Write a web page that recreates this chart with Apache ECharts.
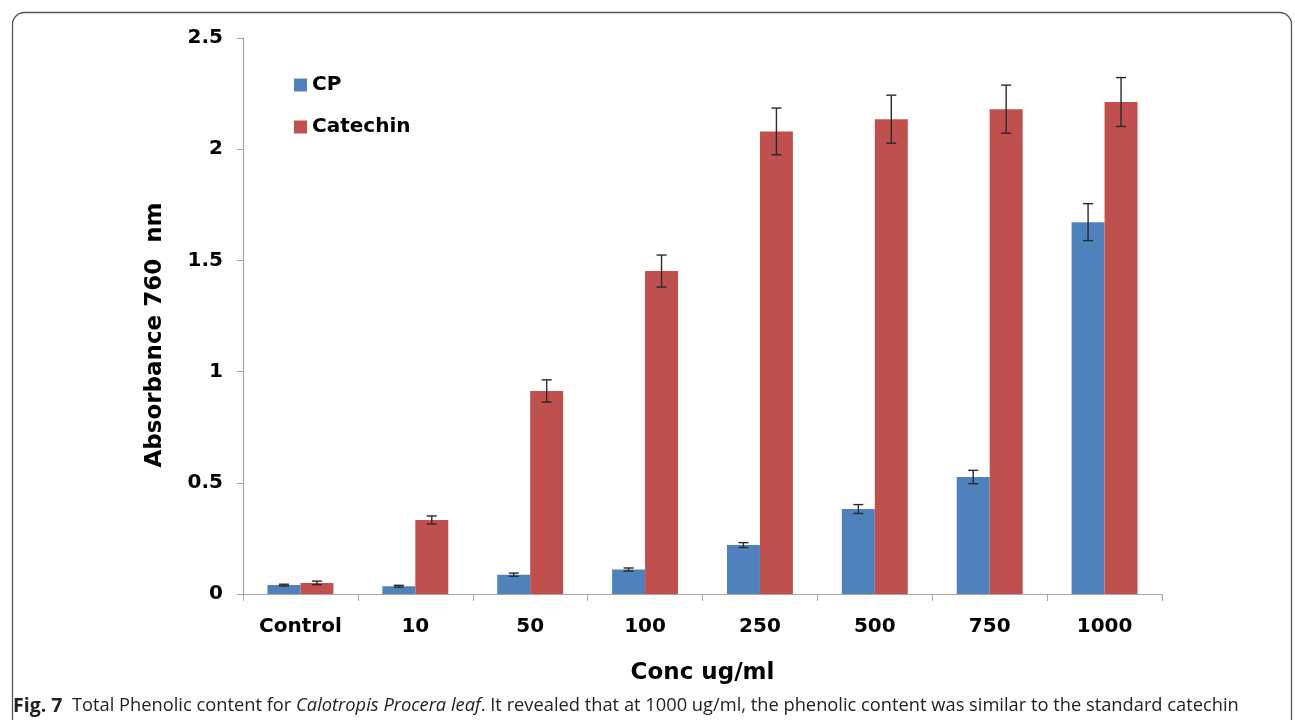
<!DOCTYPE html>
<html>
<head>
<meta charset="utf-8">
<script src="https://cdn.jsdelivr.net/npm/echarts@6/dist/echarts.min.js"></script>
<style>
html,body{margin:0;padding:0;background:#fff;}
#c{width:1295px;height:720px;}
</style>
</head>
<body>
<div id="c"></div>
<script>
var categories = ['Control', '10', '50', '100', '250', '500', '750', '1000'];
var cpValues = [0.04, 0.035, 0.087, 0.11, 0.22, 0.382, 0.526, 1.672];
var cpErrors = [0.004, 0.004, 0.007, 0.007, 0.011, 0.02, 0.03, 0.083];
var catechinValues = [0.05, 0.333, 0.913, 1.452, 2.08, 2.135, 2.18, 2.212];
var catechinErrors = [0.008, 0.018, 0.05, 0.072, 0.105, 0.108, 0.108, 0.11];
var yTicks = [0, 0.5, 1, 1.5, 2, 2.5];

var BAR_FRAC = 0.287;
var BOLD = 'DejaVu Sans, Verdana, sans-serif';

function errItem(values, errors, side) {
  return function (params, api) {
    var i = api.value(0);
    var v = values[i], e = errors[i];
    var band = api.size([1, 0])[0];
    var off = side * band * BAR_FRAC / 2;
    var top = api.coord([i, v + e]);
    var bot = api.coord([i, v - e]);
    var x = top[0] + off;
    var cap = 5;
    var st = { stroke: '#2a2a2a', lineWidth: 1.4 };
    return {
      type: 'group',
      children: [
        { type: 'line', shape: { x1: x, y1: top[1], x2: x, y2: bot[1] }, style: st },
        { type: 'line', shape: { x1: x - cap, y1: top[1], x2: x + cap, y2: top[1] }, style: st },
        { type: 'line', shape: { x1: x - cap, y1: bot[1], x2: x + cap, y2: bot[1] }, style: st }
      ]
    };
  };
}

var idx = categories.map(function (c, i) { return [i]; });

var chart = echarts.init(document.getElementById('c'), null, { renderer: 'canvas' });
chart.setOption({
  animation: false,
  backgroundColor: '#fff',
  grid: { left: 243, right: 133, top: 38, bottom: 126, containLabel: false },
  legend: {
    orient: 'vertical',
    left: 289,
    top: 70,
    itemWidth: 13,
    itemHeight: 13,
    itemGap: 22,
    icon: 'rect',
    data: ['CP', 'Catechin'],
    textStyle: { fontFamily: BOLD, fontWeight: 'bold', fontSize: 20, color: '#000' }
  },
  xAxis: {
    type: 'category',
    data: categories,
    axisLine: { lineStyle: { color: '#a6a6a6', width: 1.2 } },
    axisTick: { show: true, alignWithLabel: false, length: 7, lineStyle: { color: '#a6a6a6' } },
    axisLabel: { margin: 23, fontFamily: BOLD, fontWeight: 'bold', fontSize: 20, color: '#000' },
    name: 'Conc ug/ml',
    nameLocation: 'middle',
    nameGap: 68,
    nameTextStyle: { fontFamily: BOLD, fontWeight: 'bold', fontSize: 23, color: '#000' }
  },
  yAxis: {
    type: 'value',
    min: yTicks[0],
    max: yTicks[yTicks.length - 1],
    interval: 0.5,
    splitLine: { show: false },
    axisLine: { show: true, lineStyle: { color: '#a6a6a6', width: 1.2 } },
    axisTick: { show: true, length: 6, lineStyle: { color: '#a6a6a6' } },
    axisLabel: { margin: 20, fontFamily: BOLD, fontWeight: 'bold', fontSize: 20, color: '#000' }
  },
  series: [
    {
      name: 'CP', type: 'bar', data: cpValues, barWidth: (BAR_FRAC * 100) + '%', barGap: '0%',
      itemStyle: { color: '#4F81BD' }
    },
    {
      name: 'Catechin', type: 'bar', data: catechinValues, barWidth: (BAR_FRAC * 100) + '%', barGap: '0%',
      itemStyle: { color: '#C0504D' }
    },
    {
      type: 'custom', data: idx, renderItem: errItem(cpValues, cpErrors, -1), z: 10, silent: true
    },
    {
      type: 'custom', data: idx, renderItem: errItem(catechinValues, catechinErrors, 1), z: 10, silent: true
    }
  ],
  graphic: [
    {
      type: 'rect', left: 10, top: 10, z: -1,
      shape: { width: 1279, height: 740, r: [12, 12, 0, 0] },
      style: { fill: 'none', stroke: '#555', lineWidth: 1.3 }
    },
    {
      type: 'text', x: 155, y: 335, rotation: Math.PI / 2,
      style: {
        text: 'Absorbance 760  nm', align: 'center', verticalAlign: 'middle',
        fontFamily: BOLD, fontWeight: 'bold', fontSize: 23, fill: '#000'
      }
    },
    {
      type: 'text', x: 13, y: 706,
      style: {
        text: '{b|Fig. 7}  Total Phenolic content for {i|Calotropis Procera leaf}. It revealed that at 1000 ug/ml, the phenolic content was similar to the standard catechin',
        verticalAlign: 'middle',
        fontFamily: 'Open Sans, sans-serif',
        fontSize: 18.3,
        fill: '#222',
        rich: {
          b: { fontFamily: 'Open Sans, sans-serif', fontWeight: 'bold', fontSize: 19.5, fill: '#222' },
          i: { fontFamily: 'Open Sans, sans-serif', fontStyle: 'italic', fontSize: 18.3, fill: '#222' }
        }
      }
    }
  ]
});
</script>
</body>
</html>
